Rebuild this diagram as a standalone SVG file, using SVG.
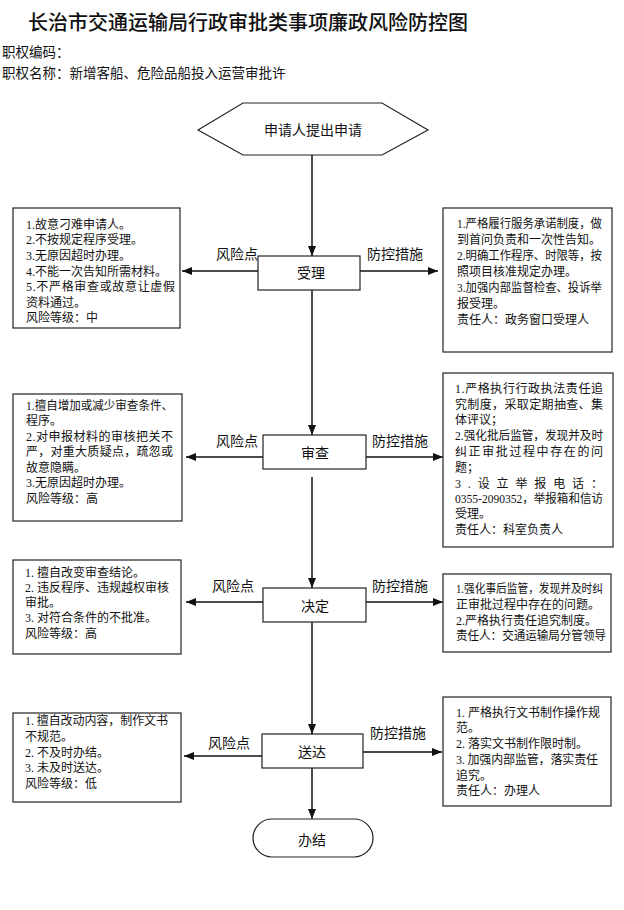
<svg xmlns="http://www.w3.org/2000/svg" width="624" height="910" viewBox="0 0 624 910">
<style>
.bg{fill:#fff}
.box{fill:#fff;stroke:#333;stroke-width:1.3}
.node{fill:#fff;stroke:#222;stroke-width:1.2}
.t{font-family:"Liberation Serif","Noto Sans CJK SC",serif;font-size:12px;fill:#111}
.lbl{font-family:"Noto Sans CJK SC",sans-serif;font-size:14px;fill:#111}
.c{text-anchor:middle}
.hd{font-family:"Liberation Serif","Noto Sans CJK SC",serif;font-size:13.5px;fill:#111}
.title{font-family:"Noto Sans CJK SC",sans-serif;font-size:20px;font-weight:500;fill:#111}
.ln{stroke:#111;stroke-width:1.5;fill:none;marker-end:url(#ah)}
</style>
<defs>
<marker id="ah" markerUnits="userSpaceOnUse" markerWidth="10" markerHeight="10" viewBox="0 0 10 10" refX="10" refY="5" orient="auto">
<path d="M0,1 L10,5 L0,9 Z" fill="#111"/>
</marker>
</defs>
<rect class="bg" x="0" y="0" width="624" height="910"/>
<g id="header">
<text class="title" x="28" y="30">长治市交通运输局行政审批类事项廉政风险防控图</text>
<text class="hd" x="2" y="57">职权编码：</text>
<text class="hd" x="2" y="78">职权名称：新增客船、危险品船投入运营审批许</text>
</g>
<g id="connectors">
<line class="ln" x1="312" y1="155" x2="312" y2="256"/>
<line class="ln" x1="312" y1="290" x2="312" y2="435"/>
<line class="ln" x1="312" y1="477" x2="312" y2="588"/>
<line class="ln" x1="312" y1="622" x2="312" y2="734"/>
<line class="ln" x1="312" y1="768" x2="312" y2="819"/>
<line class="ln" x1="258" y1="271" x2="182" y2="271"/>
<line class="ln" x1="360" y1="271" x2="438" y2="271"/>
<line class="ln" x1="263" y1="457" x2="186" y2="457"/>
<line class="ln" x1="366" y1="457" x2="443" y2="457"/>
<line class="ln" x1="263" y1="602" x2="186" y2="602"/>
<line class="ln" x1="366" y1="602" x2="443" y2="602"/>
<line class="ln" x1="262" y1="756" x2="184" y2="756"/>
<line class="ln" x1="363" y1="752" x2="442" y2="752"/>
<text class="lbl" x="216" y="259">风险点</text>
<text class="lbl" x="367" y="259">防控措施</text>
<text class="lbl" x="216" y="446">风险点</text>
<text class="lbl" x="372" y="446">防控措施</text>
<text class="lbl" x="212" y="591">风险点</text>
<text class="lbl" x="372" y="591">防控措施</text>
<text class="lbl" x="208" y="748">风险点</text>
<text class="lbl" x="370" y="738">防控措施</text>
</g>
<g id="start">
<polygon class="node" points="198,130 243,103 382,103 428,130 382,155 243,155"/>
<text class="lbl c" x="313" y="135">申请人提出申请</text>
</g>
<g id="shouli">
<rect class="node" x="258" y="256" width="102" height="34"/>
<text class="lbl c" x="311" y="278">受理</text>
</g>
<g id="shencha">
<rect class="node" x="263" y="435" width="103" height="34"/>
<text class="lbl c" x="315" y="458">审查</text>
</g>
<g id="jueding">
<rect class="node" x="263" y="588" width="103" height="34"/>
<text class="lbl c" x="315" y="611">决定</text>
</g>
<g id="songda">
<rect class="node" x="262" y="734" width="101" height="34"/>
<text class="lbl c" x="312" y="757">送达</text>
</g>
<g id="banjie">
<rect class="node" x="253" y="819" width="120" height="38" rx="19" ry="19"/>
<text class="lbl c" x="312" y="845">办结</text>
</g>
<g id="risk1">
<rect class="box" x="13" y="208" width="167" height="120"/>
<text class="t" x="26" y="228.5">1.故意刁难申请人。</text>
<text class="t" x="26" y="244">2.不按规定程序受理。</text>
<text class="t" x="26" y="260">3.无原因超时办理。</text>
<text class="t" x="26" y="275.5">4.不能一次告知所需材料。</text>
<text class="t" x="26" y="291" textLength="149" lengthAdjust="spacing">5.不严格审查或故意让虚假</text>
<text class="t" x="26" y="306.5">资料通过。</text>
<text class="t" x="26" y="322">风险等级：中</text>
</g>
<g id="measure1">
<rect class="box" x="443" y="208" width="169" height="144"/>
<text class="t" x="457" y="227.5" textLength="145" lengthAdjust="spacingAndGlyphs">1.严格履行服务承诺制度，做</text>
<text class="t" x="457" y="243.5">到首问负责和一次性告知。</text>
<text class="t" x="457" y="259.5" textLength="145" lengthAdjust="spacingAndGlyphs">2.明确工作程序、时限等，按</text>
<text class="t" x="457" y="275.5">照项目核准规定办理。</text>
<text class="t" x="457" y="291.5" textLength="145" lengthAdjust="spacingAndGlyphs">3.加强内部监督检查、投诉举</text>
<text class="t" x="457" y="307.5">报受理。</text>
<text class="t" x="457" y="323.5">责任人：政务窗口受理人</text>
</g>
<g id="risk2">
<rect class="box" x="13" y="394" width="169" height="127"/>
<text class="t" x="26" y="409.5" textLength="147" lengthAdjust="spacingAndGlyphs">1.擅自增加或减少审查条件、</text>
<text class="t" x="26" y="425">程序。</text>
<text class="t" x="26" y="440.5" textLength="147" lengthAdjust="spacing">2.对申报材料的审核把关不</text>
<text class="t" x="26" y="456" textLength="147" lengthAdjust="spacing">严，对重大质疑点，疏忽或</text>
<text class="t" x="26" y="471.5">故意隐瞒。</text>
<text class="t" x="26" y="487">3.无原因超时办理。</text>
<text class="t" x="26" y="502.5">风险等级：高</text>
</g>
<g id="measure2">
<rect class="box" x="443" y="373" width="170" height="174"/>
<text class="t" x="455" y="392.5" textLength="148" lengthAdjust="spacing">1.严格执行行政执法责任追</text>
<text class="t" x="455" y="408.5" textLength="148" lengthAdjust="spacing">究制度，采取定期抽查、集</text>
<text class="t" x="455" y="423.5">体评议；</text>
<text class="t" x="455" y="439.5" textLength="148" lengthAdjust="spacingAndGlyphs">2.强化批后监管，发现并及时</text>
<text class="t" x="455" y="455.5" textLength="148" lengthAdjust="spacing">纠正审批过程中存在的问</text>
<text class="t" x="455" y="471.5">题；</text>
<text class="t" x="455" y="487.5" textLength="148" lengthAdjust="spacing">3.设立举报电话：</text>
<text class="t" x="455" y="502.5" textLength="148" lengthAdjust="spacingAndGlyphs">0355-2090352，举报箱和信访</text>
<text class="t" x="455" y="517.5">受理。</text>
<text class="t" x="455" y="533.5">责任人：科室负责人</text>
</g>
<g id="risk3">
<rect class="box" x="13" y="560" width="168" height="94"/>
<text class="t" x="25" y="576.5">1. 擅自改变审查结论。</text>
<text class="t" x="25" y="591.5" textLength="144" lengthAdjust="spacing">2. 违反程序、违规越权审核</text>
<text class="t" x="25" y="606.5">审批。</text>
<text class="t" x="25" y="621.5">3. 对符合条件的不批准。</text>
<text class="t" x="25" y="637.5">风险等级：高</text>
</g>
<g id="measure3">
<rect class="box" x="443" y="574" width="168" height="78"/>
<text class="t" x="456" y="592.5" textLength="147" lengthAdjust="spacingAndGlyphs">1.强化事后监管，发现并及时纠</text>
<text class="t" x="456" y="608.5">正审批过程中存在的问题。</text>
<text class="t" x="456" y="624.5">2.严格执行责任追究制度。</text>
<text class="t" x="456" y="639.5" textLength="150" lengthAdjust="spacingAndGlyphs">责任人：交通运输局分管领导</text>
</g>
<g id="risk4">
<rect class="box" x="13" y="713" width="168" height="89"/>
<text class="t" x="25" y="725" textLength="143" lengthAdjust="spacing">1. 擅自改动内容，制作文书</text>
<text class="t" x="25" y="740.5">不规范。</text>
<text class="t" x="25" y="756.5">2. 不及时办结。</text>
<text class="t" x="25" y="772">3. 未及时送达。</text>
<text class="t" x="25" y="788">风险等级：低</text>
</g>
<g id="measure4">
<rect class="box" x="443" y="697" width="168" height="109"/>
<text class="t" x="456" y="716.5" textLength="144" lengthAdjust="spacing">1. 严格执行文书制作操作规</text>
<text class="t" x="456" y="731.5">范。</text>
<text class="t" x="456" y="747.5">2. 落实文书制作限时制。</text>
<text class="t" x="456" y="763.5" textLength="142" lengthAdjust="spacing">3. 加强内部监管，落实责任</text>
<text class="t" x="456" y="779.5">追究。</text>
<text class="t" x="456" y="794.5">责任人：办理人</text>
</g>
</svg>
